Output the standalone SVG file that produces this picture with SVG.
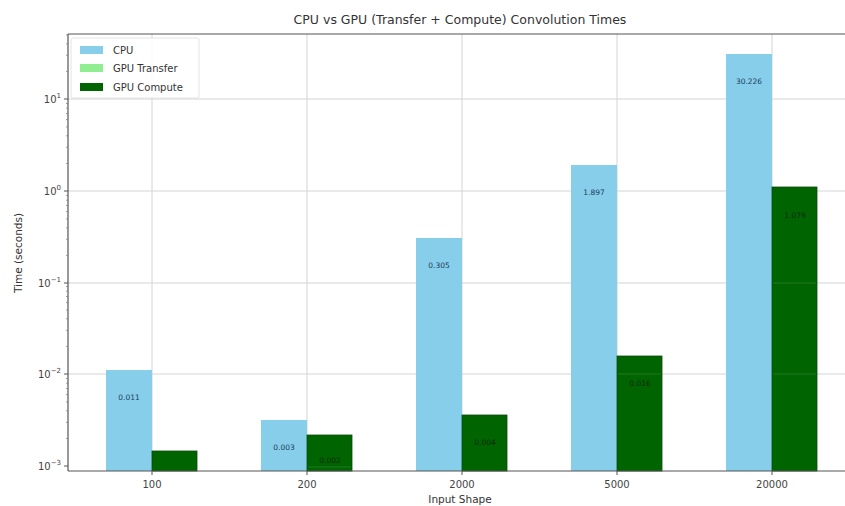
<svg xmlns="http://www.w3.org/2000/svg" width="845" height="506" viewBox="0 0 845 506">
  <style>
    text { font-family: "DejaVu Sans", "Liberation Sans", sans-serif; fill: #333; }
    .grid { stroke: #d4d4d4; stroke-width: 1; }
    .spine { stroke: #555; stroke-width: 1.2; fill: none; }
    .tick { stroke: #555; stroke-width: 1; }
    .mtick { stroke: #777; stroke-width: 0.7; }
    .cpu { fill: #87CEEB; }
    .gpu { fill: #006400; stroke: #0b4d0b; stroke-width: 0.8; }
    .inner { stroke: #3d8a3d; stroke-width: 0.8; opacity: 0.7; }
    .tl { font-size: 10px; fill: #444; }
    .vl { font-size: 7.5px; text-anchor: middle; }
    .vcpu { fill: #1d3d5c; }
    .vgpu { fill: #0d2a0d; }
  </style>

  <rect width="845" height="506" fill="#ffffff"/>

  <!-- title -->
  <text x="460" y="24" font-size="12.5" text-anchor="middle" fill="#333">CPU vs GPU (Transfer + Compute) Convolution Times</text>

  <!-- grid -->
  <g id="grid">
    <line class="grid" x1="68" y1="99" x2="845" y2="99"/>
    <line class="grid" x1="68" y1="191" x2="845" y2="191"/>
    <line class="grid" x1="68" y1="283" x2="845" y2="283"/>
    <line class="grid" x1="68" y1="374" x2="845" y2="374"/>
    <line class="grid" x1="152" y1="34" x2="152" y2="471"/>
    <line class="grid" x1="307" y1="34" x2="307" y2="471"/>
    <line class="grid" x1="462" y1="34" x2="462" y2="471"/>
    <line class="grid" x1="617" y1="34" x2="617" y2="471"/>
    <line class="grid" x1="772" y1="34" x2="772" y2="471"/>
  </g>

  <!-- CPU bars -->
  <g id="cpu-bars">
    <rect class="cpu" x="106" y="370" width="46" height="101"/>
    <rect class="cpu" x="261" y="420" width="46" height="51"/>
    <rect class="cpu" x="416" y="238" width="46" height="233"/>
    <rect class="cpu" x="571" y="165" width="46" height="306"/>
    <rect class="cpu" x="726" y="54" width="46" height="417"/>
  </g>

  <!-- GPU bars -->
  <g id="gpu-bars">
    <rect class="gpu" x="152" y="451" width="45" height="20"/>
    <rect class="gpu" x="307" y="435" width="45" height="36"/>
    <rect class="gpu" x="462" y="415" width="45" height="56"/>
    <rect class="gpu" x="617" y="356" width="45" height="115"/>
    <line class="inner" x1="618" y1="374" x2="661" y2="374"/>
    <rect class="gpu" x="772" y="187" width="45" height="284"/>
    <line class="inner" x1="773" y1="283" x2="816" y2="283"/>
    <line class="inner" x1="773" y1="374" x2="816" y2="374"/>
    <line class="inner" x1="308" y1="467" x2="351" y2="467"/>
  </g>

  <!-- value labels -->
  <g id="value-labels">
    <text class="vl vcpu" x="129" y="400">0.011</text>
    <text class="vl vcpu" x="284" y="450">0.003</text>
    <text class="vl vcpu" x="439" y="268">0.305</text>
    <text class="vl vcpu" x="594" y="195">1.897</text>
    <text class="vl vcpu" x="749" y="84">30.226</text>
    <text class="vl vgpu" x="330" y="463">0.002</text>
    <text class="vl vgpu" x="485" y="445">0.004</text>
    <text class="vl vgpu" x="640" y="386">0.016</text>
    <text class="vl vgpu" x="795" y="218">1.079</text>
  </g>

  <!-- axes -->
  <g id="axes">
    <line class="spine" x1="68" y1="34" x2="845" y2="34"/>
    <line class="spine" x1="68" y1="34" x2="68" y2="471"/>
    <line class="spine" x1="68" y1="471" x2="845" y2="471"/>
    <!-- x ticks -->
    <line class="tick" x1="152" y1="471" x2="152" y2="475"/>
    <line class="tick" x1="307" y1="471" x2="307" y2="475"/>
    <line class="tick" x1="462" y1="471" x2="462" y2="475"/>
    <line class="tick" x1="617" y1="471" x2="617" y2="475"/>
    <line class="tick" x1="772" y1="471" x2="772" y2="475"/>
    <!-- y major ticks -->
    <line class="tick" x1="64" y1="99" x2="68" y2="99"/>
    <line class="tick" x1="64" y1="191" x2="68" y2="191"/>
    <line class="tick" x1="64" y1="283" x2="68" y2="283"/>
    <line class="tick" x1="64" y1="374" x2="68" y2="374"/>
    <line class="tick" x1="64" y1="466" x2="68" y2="466"/>
    <!-- y minor ticks (2..9 per decade) -->
    <g class="mtick">
      <line x1="66" y1="71.4" x2="68" y2="71.4"/>
      <line x1="66" y1="55.3" x2="68" y2="55.3"/>
      <line x1="66" y1="43.8" x2="68" y2="43.8"/>
      <line x1="66" y1="34.9" x2="68" y2="34.9"/>

      <line x1="66" y1="163.4" x2="68" y2="163.4"/>
      <line x1="66" y1="147.3" x2="68" y2="147.3"/>
      <line x1="66" y1="135.8" x2="68" y2="135.8"/>
      <line x1="66" y1="126.9" x2="68" y2="126.9"/>
      <line x1="66" y1="119.6" x2="68" y2="119.6"/>
      <line x1="66" y1="113.5" x2="68" y2="113.5"/>
      <line x1="66" y1="108.2" x2="68" y2="108.2"/>
      <line x1="66" y1="103.5" x2="68" y2="103.5"/>

      <line x1="66" y1="255.4" x2="68" y2="255.4"/>
      <line x1="66" y1="239.3" x2="68" y2="239.3"/>
      <line x1="66" y1="227.8" x2="68" y2="227.8"/>
      <line x1="66" y1="218.9" x2="68" y2="218.9"/>
      <line x1="66" y1="211.6" x2="68" y2="211.6"/>
      <line x1="66" y1="205.5" x2="68" y2="205.5"/>
      <line x1="66" y1="200.2" x2="68" y2="200.2"/>
      <line x1="66" y1="195.5" x2="68" y2="195.5"/>

      <line x1="66" y1="346.4" x2="68" y2="346.4"/>
      <line x1="66" y1="330.3" x2="68" y2="330.3"/>
      <line x1="66" y1="318.8" x2="68" y2="318.8"/>
      <line x1="66" y1="309.9" x2="68" y2="309.9"/>
      <line x1="66" y1="302.6" x2="68" y2="302.6"/>
      <line x1="66" y1="296.5" x2="68" y2="296.5"/>
      <line x1="66" y1="291.2" x2="68" y2="291.2"/>
      <line x1="66" y1="286.5" x2="68" y2="286.5"/>

      <line x1="66" y1="438.4" x2="68" y2="438.4"/>
      <line x1="66" y1="422.3" x2="68" y2="422.3"/>
      <line x1="66" y1="410.8" x2="68" y2="410.8"/>
      <line x1="66" y1="401.9" x2="68" y2="401.9"/>
      <line x1="66" y1="394.6" x2="68" y2="394.6"/>
      <line x1="66" y1="388.5" x2="68" y2="388.5"/>
      <line x1="66" y1="383.2" x2="68" y2="383.2"/>
      <line x1="66" y1="378.5" x2="68" y2="378.5"/>
    </g>
  </g>

  <!-- tick labels -->
  <g id="tick-labels">
    <text class="tl" x="152" y="488" text-anchor="middle">100</text>
    <text class="tl" x="307" y="488" text-anchor="middle">200</text>
    <text class="tl" x="462" y="488" text-anchor="middle">2000</text>
    <text class="tl" x="617" y="488" text-anchor="middle">5000</text>
    <text class="tl" x="772" y="488" text-anchor="middle">20000</text>

    <text class="tl" x="61" y="103" text-anchor="end">10<tspan font-size="7" dy="-5">1</tspan></text>
    <text class="tl" x="61" y="195" text-anchor="end">10<tspan font-size="7" dy="-5">0</tspan></text>
    <text class="tl" x="61" y="287" text-anchor="end">10<tspan font-size="7" dy="-5">−1</tspan></text>
    <text class="tl" x="61" y="378" text-anchor="end">10<tspan font-size="7" dy="-5">−2</tspan></text>
    <text class="tl" x="61" y="470" text-anchor="end">10<tspan font-size="7" dy="-5">−3</tspan></text>
  </g>

  <!-- axis labels -->
  <text x="460" y="503" font-size="10.5" text-anchor="middle" fill="#444">Input Shape</text>
  <text x="0" y="0" font-size="10.5" text-anchor="middle" fill="#444" transform="translate(22 253) rotate(-90)">Time (seconds)</text>

  <!-- legend -->
  <g id="legend">
    <rect x="71" y="38" width="128" height="60" rx="2" fill="#ffffff" fill-opacity="0.85" stroke="#dddddd" stroke-width="0.8"/>
    <rect x="80" y="46" width="23" height="8" fill="#87CEEB"/>
    <text x="113" y="53.5" font-size="10">CPU</text>
    <rect x="80" y="64" width="23" height="8" fill="#90EE90"/>
    <text x="113" y="71.5" font-size="10">GPU Transfer</text>
    <rect x="80" y="83" width="23" height="8" fill="#006400"/>
    <text x="113" y="90.5" font-size="10">GPU Compute</text>
  </g>
</svg>
